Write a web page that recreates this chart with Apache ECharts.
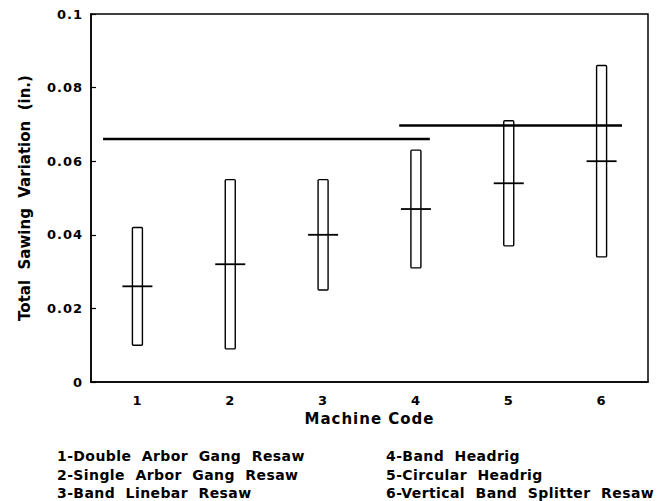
<!DOCTYPE html>
<html>
<head>
<meta charset="utf-8">
<script src="https://cdn.jsdelivr.net/npm/echarts@6/dist/echarts.min.js"></script>
<style>
  html, body { margin: 0; padding: 0; background: #fff; }
  #chart { width: 663px; height: 501px; }
  #chart text { letter-spacing: 1px; }
</style>
</head>
<body>
<div id="chart"></div>
<script>
// ---- data ----
const machineCodes = ['1', '2', '3', '4', '5', '6'];
const machinePositions = [1, 2, 3, 4, 5, 6];
const minValues  = [0.010, 0.009, 0.025, 0.031, 0.037, 0.034];
const maxValues  = [0.042, 0.055, 0.055, 0.063, 0.071, 0.086];
const meanValues = [0.026, 0.032, 0.040, 0.047, 0.054, 0.060];
const groupLineA = [[0.63, 0.066], [4.15, 0.066]];
const groupLineB = [[3.82, 0.0697], [6.22, 0.0697]];
const yTickLabels = ['0', '0.02', '0.04', '0.06', '0.08', '0.1'];
const legendLeft  = ['1-Double  Arbor  Gang  Resaw', '2-Single  Arbor  Gang  Resaw', '3-Band  Linebar  Resaw'];
const legendRight = ['4-Band  Headrig', '5-Circular  Headrig', '6-Vertical  Band  Splitter  Resaw'];
const yTitle = 'Total  Sawing  Variation  (in.)';

const FONT = 'DejaVu Sans';
const boxData = machinePositions.map((x, i) => [x, minValues[i], maxValues[i], meanValues[i]]);

const chart = echarts.init(document.getElementById('chart'), null, { renderer: 'svg' });
chart.setOption({
  animation: false,
  backgroundColor: '#fff',
  grid: { left: 91, right: 15, top: 14, bottom: 119, show: true, borderColor: '#000', borderWidth: 1.5, backgroundColor: 'transparent' },
  xAxis: [
    {
      type: 'category', data: machineCodes, boundaryGap: true,
      axisLine: { lineStyle: { color: '#000', width: 1.5 } },
      axisTick: { inside: true, alignWithLabel: true, length: 5, lineStyle: { color: '#000', width: 1.2 } },
      axisLabel: { color: '#000', fontFamily: FONT, fontWeight: 'bold', fontSize: 13, margin: 12 },
      name: 'Machine Code', nameLocation: 'middle', nameGap: 29,
      nameTextStyle: { color: '#000', fontFamily: FONT, fontWeight: 'bold', fontSize: 15 },
      splitLine: { show: false }
    },
    { type: 'value', min: 0.5, max: 6.5, show: false }
  ],
  yAxis: {
    type: 'value', min: 0, max: 0.1, interval: 0.02,
    axisLine: { show: true, lineStyle: { color: '#000', width: 1.5 } },
    axisTick: { show: true, inside: true, length: 5, lineStyle: { color: '#000', width: 1.2 } },
    axisLabel: { color: '#000', fontFamily: FONT, fontWeight: 'bold', fontSize: 13, margin: 8,
      formatter: v => yTickLabels[Math.round(v / 0.02)] },
    splitLine: { show: false },
    name: yTitle, nameLocation: 'middle', nameGap: 59, nameRotate: 90,
    nameTextStyle: { color: '#000', fontFamily: FONT, fontWeight: 'bold', fontSize: 15 }
  },
  series: [
    {
      type: 'custom', xAxisIndex: 1, yAxisIndex: 0, data: boxData, z: 3,
      renderItem: (params, api) => {
        const x = api.value(0);
        const top = api.coord([x, api.value(2)]);
        const bot = api.coord([x, api.value(1)]);
        const mid = api.coord([x, api.value(3)]);
        return {
          type: 'group',
          children: [
            { type: 'rect', shape: { x: top[0] - 5, y: top[1], width: 10, height: bot[1] - top[1], r: 1 },
              style: { fill: 'none', stroke: '#000', lineWidth: 1.4 } },
            { type: 'line', shape: { x1: mid[0] - 15, y1: mid[1], x2: mid[0] + 15, y2: mid[1] },
              style: { stroke: '#000', lineWidth: 1.8 } }
          ]
        };
      }
    },
    { type: 'line', xAxisIndex: 1, data: groupLineA, symbol: 'none', z: 4,
      lineStyle: { color: '#000', width: 2.5 } },
    { type: 'line', xAxisIndex: 1, data: groupLineB, symbol: 'none', z: 4,
      lineStyle: { color: '#000', width: 2.5 } }
  ],
  graphic: [
    { type: 'text', left: 57, top: 447, style: { text: legendLeft.join('\n'), font: 'bold 14px "DejaVu Sans"', fill: '#000', lineHeight: 18.5 } },
    { type: 'text', left: 386, top: 447, style: { text: legendRight.join('\n'), font: 'bold 14px "DejaVu Sans"', fill: '#000', lineHeight: 18.5 } }
  ]
});

// letter spacing tweaks (text stays real SVG text)
const legendSet = legendLeft.concat(legendRight);
document.querySelectorAll('#chart text').forEach(t => {
  const s = t.textContent;
  if (legendSet.some(l => s.indexOf(l) >= 0)) t.style.letterSpacing = '0.4px';
  else if (s.indexOf('Sawing') >= 0) t.style.letterSpacing = '0px';
});
</script>
</body>
</html>
